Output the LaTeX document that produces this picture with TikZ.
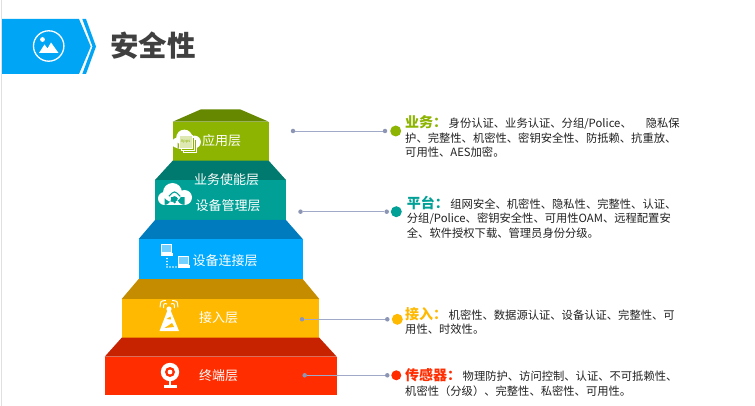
\documentclass[tikz,border=0pt]{standalone}
\usepackage{fontspec}
\setmainfont{Noto Sans CJK SC}
\usetikzlibrary{positioning}
\definecolor{headblue}{RGB}{0,165,245}
\definecolor{linegray}{RGB}{160,170,200}
\definecolor{dotgray}{RGB}{140,150,180}
\definecolor{greenF}{RGB}{140,180,0}
\definecolor{greenT}{RGB}{102,136,0}
\definecolor{tealF}{RGB}{0,160,150}
\definecolor{tealT}{RGB}{0,122,110}
\definecolor{blueF}{RGB}{0,170,255}
\definecolor{blueT}{RGB}{0,124,190}
\definecolor{yellowF}{RGB}{255,185,0}
\definecolor{yellowT}{RGB}{198,140,0}
\definecolor{redF}{RGB}{255,45,0}
\definecolor{redT}{RGB}{200,35,0}
\definecolor{inktext}{RGB}{34,34,34}
\newcommand{\cloudpath}[3]{% x, y, scale
  \begin{scope}[shift={(#1,#2)},scale=#3]
    \fill[white] (-10,4.5) circle (6.5) (-2,-1.5) circle (9.5) (10,3.5) circle (7.5) (-10,3) rectangle (10,11);
  \end{scope}}
\newcommand{\headtxt}[2]{{\color{#1}\fontsize{14}{14.5}\selectfont\bfseries #2}\hspace{1.5pt}}
\begin{document}
\begin{tikzpicture}[x=1pt,y=-1pt,
    layer/.style={font=\fontsize{13}{15}\selectfont,text=white,inner sep=0pt},
    desc/.style={font=\fontsize{11.3}{14.5}\selectfont,text=inktext,align=left,anchor=west,inner sep=0pt},
    small/.style={circle,fill=dotgray,inner sep=0pt,minimum size=4.5pt},
    big/.style={circle,inner sep=0pt,minimum size=11pt},
    conn/.style={linegray,line width=0.8pt},
    doc/.style={draw=white,fill=greenF,line width=0.7pt},
    wave/.style={white,line width=1pt}]
  \useasboundingbox (0,0) rectangle (755,406);
  \fill[white] (0,0) rectangle (755,406);
  \fill[black!12] (0.5,0) rectangle (2,406);
  % header
  \fill[headblue] (2,19) -- (79,19) -- (90.7,46.5) -- (79,74) -- (2,74) -- cycle;
  \fill[headblue] (82.3,19) -- (86,19) -- (96,46.5) -- (86,74) -- (82.3,74) -- (92.5,46.5) -- cycle;
  \draw[white,line width=1.3pt] (48.7,46) circle (15.2);
  \fill[white] (42.5,39.5) circle (2.4);
  \fill[white] (39,53) -- (44.5,44.5) -- (47.5,48.5) -- (51,42.5) -- (58.5,53) -- cycle;
  \node[font=\fontsize{28.5}{30}\selectfont\bfseries,text=black!75,inner sep=0pt] (title) at (153,46) {安全性};
  % steps, top to bottom
  \fill[greenT] (172.7,121.7) -- (201,109.3) -- (240,109.3) -- (268.7,121.7) -- cycle;
  \fill[greenF] (172.7,121.7) rectangle (268.7,160.7);
  \fill[tealT] (155,180) -- (172.7,160.7) -- (268.7,160.7) -- (286,180) -- cycle;
  \fill[tealF] (155,180) rectangle (286,220);
  \fill[blueT] (138.7,239) -- (155,220) -- (286,220) -- (302.7,239) -- cycle;
  \fill[blueF] (138.7,239) rectangle (302.7,279);
  \fill[yellowT] (121.7,299) -- (138.7,279) -- (302.7,279) -- (319.3,299) -- cycle;
  \fill[yellowF] (121.7,299) rectangle (319.3,337.7);
  \fill[redT] (104.7,356.7) -- (121.7,337.7) -- (319.3,337.7) -- (336.7,356.7) -- cycle;
  \fill[redF] (104.7,356.7) rectangle (336.7,395);
  % icons
  \cloudpath{186}{139}{0.85}
  \draw[doc] (183,139) rectangle (196,152);
  \draw[doc] (181,137) rectangle (194,150);
  \draw[doc,fill=white!70!greenF] (179,135) rectangle (192,148);
  \node[font=\fontsize{4}{4}\selectfont,text=greenF,inner sep=0pt] (apps) at (185.5,141) {Apps};
  \cloudpath{174.5}{194}{1}
  \fill[tealF] (174.5,202) circle (1.5);
  \draw[tealF,line width=1.1pt] (171.5,199) .. controls (174.5,196) .. (177.5,199);
  \draw[tealF,line width=1.1pt] (168.8,196.3) .. controls (174.5,190.5) .. (180.2,196.3);
  \foreach \px/\py in {161/244,178/256}{
    \draw[white,line width=1pt,fill=white!45!blueF] (\px+0.5,\py+0.5) rectangle (\px+10.5,\py+8);
    \fill[white] (\px-0.5,\py+9) rectangle (\px+12,\py+11.5);
  }
  \foreach \py in {258.5,261.5,264.5,267}{\fill[white] (167,\py) circle (0.8);}
  \foreach \px in {170,173,176}{\fill[white] (\px,267) circle (0.8);}
  \fill[white] (168,309) -- (170,309) -- (179,331) -- (159.5,331) -- cycle;
  \fill[white] (169,309) circle (2.6);
  \fill[yellowF] (166.5,319) -- (170.5,316.5) -- (171,319.5) -- cycle;
  \fill[yellowF] (164.5,328) -- (172,323) -- (174,327) -- cycle;
  \draw[wave] (163.6,308) .. controls (163.5,303.5) .. (167.1,303.8);
  \draw[wave] (160.1,307.4) .. controls (160.5,301) .. (165.9,300.5);
  \draw[wave] (174.4,308) .. controls (174.5,303.5) .. (170.9,303.8);
  \draw[wave] (177.9,307.4) .. controls (177.5,301) .. (172.1,300.5);
  \fill[white] (170,372) circle (9.2);
  \fill[redF] (170,372) circle (5);
  \fill[white] (170,372) circle (2.4);
  \fill[white] (169.2,381) rectangle (170.8,385);
  \fill[white] (163.5,385) rectangle (176.5,387.5);
  % layer names
  \node[layer] (app) at (221.5,141) {应用层};
  \node[layer] (biz) at (226.7,180) {业务使能层};
  \node[layer] (mgmt) at (228,206) {设备管理层};
  \node[layer] (conn) at (225,260.7) {设备连接层};
  \node[layer] (acc) at (218.7,318) {接入层};
  \node[layer] (term) at (218.7,376) {终端层};
  % connectors
  \node[small] (a1) at (293,131) {};
  \node[small] (a2) at (385,131) {};
  \node[big,fill=greenF] (a3) at (395.7,131) {};
  \node[small] (b1) at (300.5,211.7) {};
  \node[small] (b2) at (386.7,211.7) {};
  \node[big,fill=tealF] (b3) at (396.3,211.7) {};
  \node[small] (c1) at (302,319.3) {};
  \node[small] (c2) at (387.3,319.3) {};
  \node[big,fill=yellowF] (c3) at (397.3,319.3) {};
  \node[small] (d1) at (304.7,375.3) {};
  \node[small] (d2) at (387.3,375.3) {};
  \node[big,fill=redF,minimum size=10pt] (d3) at (396.3,375.3) {};
  \draw[conn] (a1) -- (a2); \draw[conn] (b1) -- (b2); \draw[conn] (c1) -- (c2); \draw[conn] (d1) -- (d2);
  % descriptions
  \node[desc] (t1) at (405,136.5) {\headtxt{greenF}{业务：}身份认证、业务认证、分组/Police、\hspace{14pt}隐私保\\护、完整性、机密性、密钥安全性、防抵赖、抗重放、\\可用性、AES加密。};
  \node[desc] (t2) at (406.7,217) {\headtxt{tealF}{平台：}组网安全、机密性、隐私性、完整性、认证、\\分组/Police、密钥安全性、可用性OAM、远程配置安\\全、软件授权下载、管理员身份分级。};
  \node[desc] (t3) at (405,321) {\headtxt{yellowF}{接入：}机密性、数据源认证、设备认证、完整性、可\\用性、时效性。};
  \node[desc] (t4) at (405,382.5) {\headtxt{redF}{传感器：}物理防护、访问控制、认证、不可抵赖性、\\机密性（分级）、完整性、私密性、可用性。};
\end{tikzpicture}
\end{document}
